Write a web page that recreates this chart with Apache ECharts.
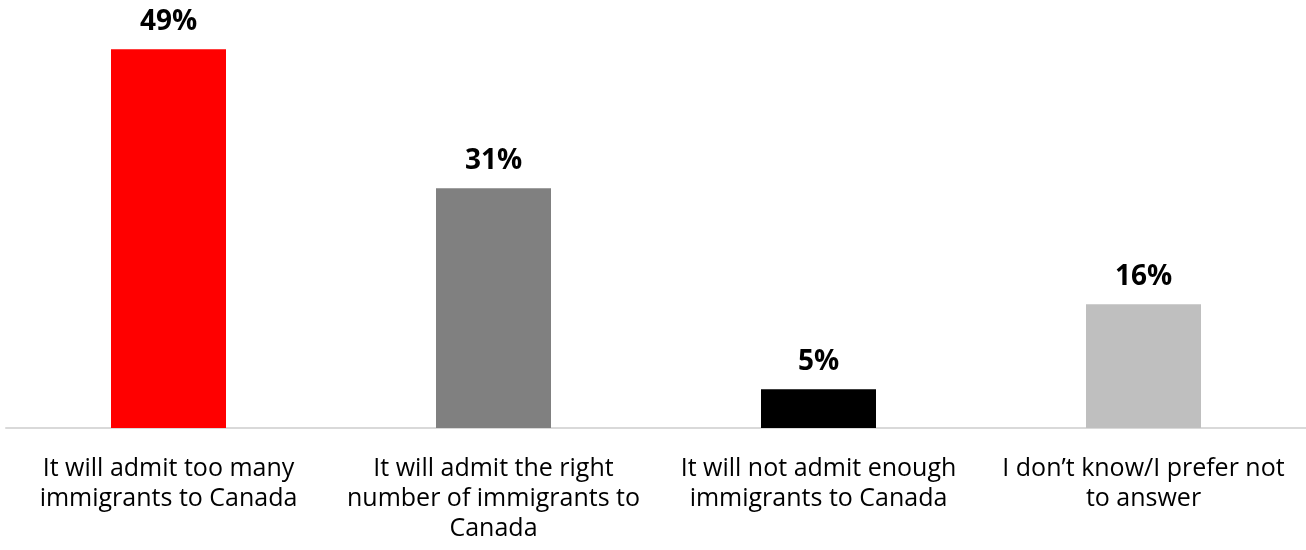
<!DOCTYPE html>
<html>
<head>
<meta charset="utf-8">
<script src="https://cdn.jsdelivr.net/npm/echarts@6/dist/echarts.min.js"></script>
<style>
html,body{margin:0;padding:0;background:#fff;}
#chart{width:1306px;height:550px;}
</style>
</head>
<body>
<div id="chart"></div>
<script>
const categories = [
  "It will admit too many\nimmigrants to Canada",
  "It will admit the right\nnumber of immigrants to\nCanada",
  "It will not admit enough\nimmigrants to Canada",
  "I don\u2019t know/I prefer not\nto answer"
];
const values = [49, 31, 5, 16];
const barColors = ["#ff0000", "#808080", "#000000", "#bfbfbf"];

const chart = echarts.init(document.getElementById('chart'), null, {renderer: 'canvas'});
chart.setOption({
  animation: false,
  backgroundColor: '#ffffff',
  grid: {left: 6, right: 0, top: 41.5, bottom: 122, containLabel: false},
  xAxis: {
    type: 'category',
    data: categories,
    axisLine: {show: true, lineStyle: {color: '#d9d9d9', width: 2}},
    axisTick: {show: false},
    axisLabel: {
      interval: 0,
      margin: 26,
      color: '#000000',
      fontFamily: 'Open Sans',
      fontSize: 25,
      lineHeight: 30
    }
  },
  yAxis: {
    type: 'value',
    min: 0,
    max: 50,
    show: false,
    splitLine: {show: false}
  },
  series: [{
    type: 'bar',
    data: values.map((v, i) => ({value: v, itemStyle: {color: barColors[i]}})),
    barWidth: 115,
    label: {
      show: true,
      position: 'top',
      distance: 13,
      formatter: '{c}%',
      color: '#000000',
      fontFamily: 'Open Sans',
      fontWeight: 'bold',
      fontSize: 28
    }
  }]
});
</script>
</body>
</html>
